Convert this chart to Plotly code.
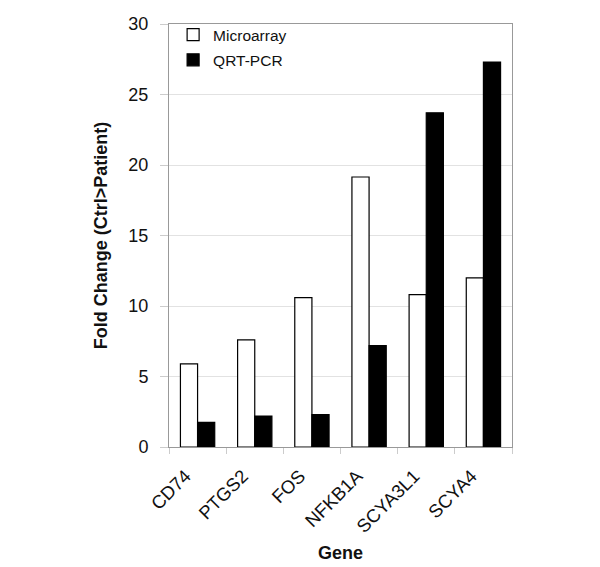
import plotly.graph_objects as go

genes = ["CD74", "PTGS2", "FOS", "NFKB1A", "SCYA3L1", "SCYA4"]
microarray = [5.9, 7.6, 10.6, 19.15, 10.8, 12.0]
qrt_pcr = [1.75, 2.2, 2.3, 7.2, 23.7, 27.3]
y_ticks = [0, 5, 10, 15, 20, 25, 30]

fig = go.Figure()
fig.add_trace(go.Bar(x=genes, y=microarray, name="Microarray", legendgroup="m",
                     marker=dict(color="white", line=dict(color="black", width=1.2))))
fig.add_trace(go.Bar(x=genes, y=qrt_pcr, name="QRT-PCR", legendgroup="q",
                     marker=dict(color="black", line=dict(color="black", width=1.2))))

fig.update_layout(
    width=600, height=567,
    margin=dict(l=161, r=96, t=16, b=128, autoexpand=False),
    paper_bgcolor="white", plot_bgcolor="white",
    barmode="group", bargap=0.4, bargroupgap=0,
    font=dict(family="Arial, Liberation Sans, sans-serif", color="#111"),
    legend=dict(x=0.012, y=1.014, xanchor="left", yanchor="top",
                bgcolor="rgba(0,0,0,0)", font=dict(size=15.5), tracegroupgap=2,
                itemwidth=30),
    showlegend=True,
)
fig.update_yaxes(range=[0, 30], tickvals=y_ticks, tickfont=dict(size=18),
                 showgrid=True, gridcolor="#e2e2e2", gridwidth=1,
                 showline=True, linecolor="#999", linewidth=1, mirror=True,
                 zeroline=False, ticks="outside", ticklen=8, tickcolor="#ccc",
                 ticklabelstandoff=8,
                 title=dict(text="<b>Fold Change (Ctrl>Patient)</b>", font=dict(size=18), standoff=16))
fig.update_xaxes(tickangle=-45, tickfont=dict(size=18.5),
                 showline=True, linecolor="#999", linewidth=1, mirror=True,
                 ticks="outside", tickson="boundaries", ticklen=6, tickcolor="#ccc",
                 ticklabelshift=-12, ticklabelstandoff=10,
                 title=dict(text="<b>Gene</b>", font=dict(size=18), standoff=10))

fig.write_html("out.html")
